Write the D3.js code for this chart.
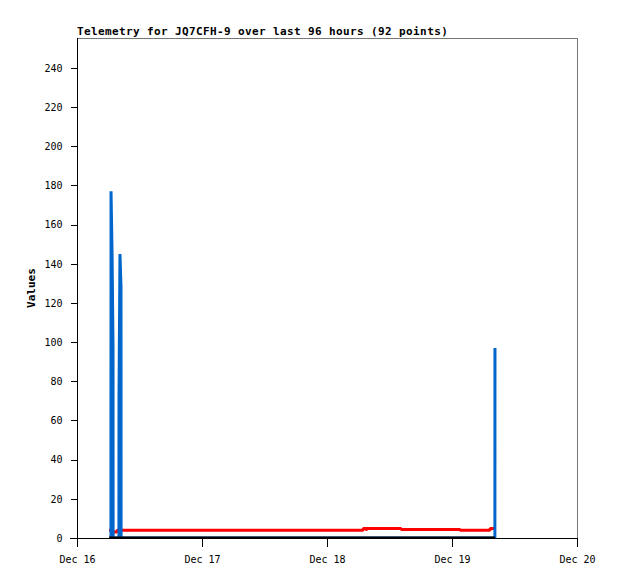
<!DOCTYPE html>
<html>
<head>
<meta charset="utf-8">
<script src="https://cdn.jsdelivr.net/npm/d3@7"></script>
<style>
  html, body { margin: 0; padding: 0; background: #fff; }
</style>
</head>
<body>
<div id="chart"></div>
<script>
const title = 'Telemetry for JQ7CFH-9 over last 96 hours (92 points)'
const yLabel = 'Values'
const yTicks = [0, 20, 40, 60, 80, 100, 120, 140, 160, 180, 200, 220, 240]
const xTicks = ['2023-12-16 00:00', '2023-12-17 00:00', '2023-12-18 00:00', '2023-12-19 00:00', '2023-12-20 00:00']

// channel 1 (blue)
const blueTimes = [
  '2023-12-16 06:31', '2023-12-16 06:32', '2023-12-16 06:44', '2023-12-16 06:55', '2023-12-16 06:56',
  '2023-12-16 08:03', '2023-12-16 08:04', '2023-12-16 08:15', '2023-12-16 08:27', '2023-12-16 08:28',
  '2023-12-19 08:14', '2023-12-19 08:15'
]
const blueValues = [0, 177, 145, 97, 0, 0, 72, 145, 128, 0, 0, 97]

// channel 2 (red)
const redTimes = [
  '2023-12-16 06:10', '2023-12-16 06:52', '2023-12-16 06:55', '2023-12-16 07:40', '2023-12-16 07:43',
  '2023-12-18 06:55', '2023-12-18 06:58', '2023-12-18 07:25', '2023-12-18 07:28', '2023-12-18 07:40',
  '2023-12-18 07:43', '2023-12-18 14:12', '2023-12-18 14:15', '2023-12-19 01:32', '2023-12-19 01:35',
  '2023-12-19 07:18', '2023-12-19 07:20', '2023-12-19 08:25'
]
const redValues = [3.9, 3.9, 3.1, 3.1, 3.9, 3.9, 4.9, 4.9, 4.4, 4.4, 4.9, 4.9, 4.4, 4.4, 3.9, 3.9, 4.9, 4.9]

// channel 3 (black)
const blackTimes = ['2023-12-16 06:10', '2023-12-19 08:15']
const blackValues = [0, 0]

const parse = d3.timeParse('%Y-%m-%d %H:%M')

const width = 618
const height = 579
const margin = { top: 38, right: 41, bottom: 41, left: 77 }
const innerW = width - margin.left - margin.right
const innerH = height - margin.top - margin.bottom
const mono = 'DejaVu Sans Mono, Liberation Mono, monospace'

const svg = d3.select('#chart')
  .append('svg')
  .attr('width', width)
  .attr('height', height)
  .style('background', '#fff')

const x = d3.scaleTime()
  .domain([parse(xTicks[0]), parse(xTicks[xTicks.length - 1])])
  .range([margin.left, margin.left + innerW])

const y = d3.scaleLinear()
  .domain([0, 255.3])
  .range([margin.top + innerH, margin.top])

// clip the series to the plot box
svg.append('defs').append('clipPath')
  .attr('id', 'plot-clip')
  .append('rect')
    .attr('x', margin.left)
    .attr('y', margin.top)
    .attr('width', innerW)
    .attr('height', innerH + 0.5)

// frame: top and right in grey
svg.append('path')
  .attr('d', `M${margin.left},${margin.top + 0.5}H${margin.left + innerW + 0.5}V${margin.top + innerH}`)
  .attr('fill', 'none')
  .attr('stroke', '#777')
  .attr('stroke-width', 1)
  .attr('shape-rendering', 'crispEdges')

const series = [
  { times: redTimes, values: redValues, color: '#ff0000' },
  { times: blueTimes, values: blueValues, color: '#0066cc' },
  { times: blackTimes, values: blackValues, color: '#000000' }
]

const line = d3.line()
  .x(d => x(d.t))
  .y(d => y(d.v))

const plot = svg.append('g').attr('clip-path', 'url(#plot-clip)')

series.forEach(s => {
  const pts = s.times.map((t, i) => ({ t: parse(t), v: s.values[i] }))
  plot.append('path')
    .datum(pts)
    .attr('fill', 'none')
    .attr('stroke', s.color)
    .attr('stroke-width', 3)
    .attr('stroke-linejoin', 'bevel')
    .attr('d', line)
})

// y axis
const yAxis = svg.append('g')
  .attr('transform', `translate(${margin.left + 0.5},0)`)
  .call(d3.axisLeft(y).tickValues(yTicks).tickSize(7).tickSizeOuter(0).tickPadding(8))
yAxis.select('.domain').remove()
yAxis.selectAll('line').attr('stroke', '#000').attr('shape-rendering', 'crispEdges')
yAxis.selectAll('text')
  .attr('font-family', mono)
  .attr('font-size', 10)
  .attr('fill', '#000')

svg.append('line')
  .attr('x1', margin.left + 0.5).attr('x2', margin.left + 0.5)
  .attr('y1', margin.top).attr('y2', margin.top + innerH)
  .attr('stroke', '#000')
  .attr('shape-rendering', 'crispEdges')

// x axis
const xAxis = svg.append('g')
  .attr('transform', `translate(0,${margin.top + innerH + 0.5})`)
  .call(d3.axisBottom(x)
    .tickValues(xTicks.map(parse))
    .tickFormat(d3.timeFormat('%b %-d'))
    .tickSize(8)
    .tickSizeOuter(0)
    .tickPadding(9))
xAxis.select('.domain').remove()
xAxis.selectAll('line').attr('stroke', '#000').attr('shape-rendering', 'crispEdges')
xAxis.selectAll('text')
  .attr('font-family', mono)
  .attr('font-size', 10)
  .attr('fill', '#000')

svg.append('line')
  .attr('x1', margin.left - 7).attr('x2', margin.left + innerW + 1)
  .attr('y1', margin.top + innerH + 0.5).attr('y2', margin.top + innerH + 0.5)
  .attr('stroke', '#000')
  .attr('shape-rendering', 'crispEdges')

// title
svg.append('text')
  .attr('x', margin.left)
  .attr('y', 35)
  .attr('font-family', mono)
  .attr('font-size', 11)
  .attr('font-weight', 'bold')
  .attr('letter-spacing', 0.38)
  .attr('fill', '#000')
  .text(title)

// y label
svg.append('text')
  .attr('transform', `translate(35,${margin.top + innerH / 2}) rotate(-90)`)
  .attr('text-anchor', 'middle')
  .attr('font-family', mono)
  .attr('font-size', 11)
  .attr('font-weight', 'bold')
  .attr('fill', '#000')
  .text(yLabel)
</script>
</body>
</html>
